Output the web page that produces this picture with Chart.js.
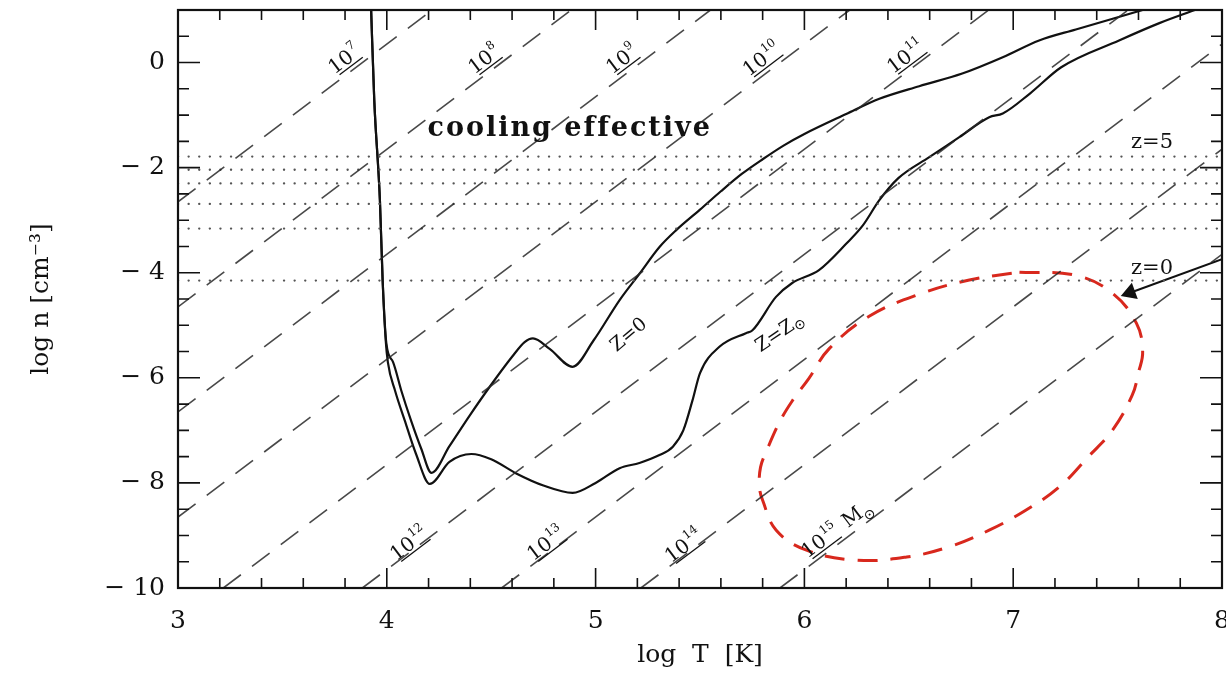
<!DOCTYPE html>
<html>
<head>
<meta charset="utf-8">
<title>Cooling diagram</title>
<script src="https://cdn.jsdelivr.net/npm/chart.js@4.4.1/dist/chart.umd.min.js"></script>
<style>
  body { margin: 0; background: #fff; }
  #wrap { width: 1226px; height: 678px; }
</style>
</head>
<body>
<div id="wrap"><canvas id="chart" width="1226" height="678"></canvas></div>
<script>
// axis tick labels
const xTicks = [3, 4, 5, 6, 7, 8];
const yTicks = [-10, -8, -6, -4, -2, 0];

// cooling curve, zero metallicity (log T, log n)
const zeroT = [3.925, 3.94, 3.967, 3.98, 3.998, 4.03, 4.07, 4.115, 4.165, 4.214, 4.3, 4.4, 4.493, 4.6, 4.66, 4.70, 4.78, 4.89, 4.99, 5.115, 5.21, 5.306, 5.386, 5.5, 5.6, 5.7, 5.8, 5.9, 6.0, 6.2, 6.359, 6.55, 6.756, 6.95, 7.124, 7.3, 7.62];
const zeroN = [1.0, -0.72, -2.62, -4.14, -5.35, -5.7, -6.25, -6.8, -7.35, -7.81, -7.3, -6.7, -6.17, -5.6, -5.32, -5.25, -5.45, -5.79, -5.29, -4.52, -4.02, -3.51, -3.19, -2.8, -2.45, -2.12, -1.84, -1.58, -1.36, -0.98, -0.69, -0.45, -0.21, 0.1, 0.42, 0.63, 1.0];

// cooling curve, solar metallicity
const solarT = [3.925, 3.94, 3.967, 3.98, 3.995, 4.005, 4.04, 4.085, 4.14, 4.206, 4.3, 4.405, 4.5, 4.62, 4.75, 4.89, 5.0, 5.115, 5.21, 5.306, 5.37, 5.42, 5.464, 5.5, 5.593, 5.72, 5.75, 5.864, 5.94, 6.07, 6.2, 6.28, 6.359, 6.45, 6.598, 6.742, 6.885, 6.95, 7.08, 7.23, 7.507, 7.7, 7.87];
const solarN = [1.0, -0.72, -2.62, -4.14, -5.3, -5.7, -6.25, -6.8, -7.45, -8.02, -7.6, -7.45, -7.55, -7.82, -8.05, -8.19, -8.0, -7.72, -7.62, -7.47, -7.31, -7.0, -6.43, -5.91, -5.41, -5.15, -5.1, -4.46, -4.2, -3.95, -3.45, -3.1, -2.62, -2.2, -1.8, -1.42, -1.04, -0.97, -0.59, -0.09, 0.42, 0.75, 1.0];

// halo mass lines 10^7 .. 10^15 Msun
const massExp = [7, 8, 9, 10, 11, 12, 13, 14, 15];
const massStartT = [3, 3, 3, 3, 3.217, 3.883, 4.55, 5.217, 5.883];
const massStartN = [-2.65, -4.65, -6.65, -8.65, -10, -10, -10, -10, -10];
const massEndT = [4.217, 4.883, 5.55, 6.217, 6.883, 7.55, 8, 8, 8];
const massEndN = [1, 1, 1, 1, 1, 1, 0.35, -1.65, -3.65];
const massLabelT = [3.79, 4.46, 5.12, 5.79, 6.48, 4.10, 4.756, 5.416, 6.07];
const massLabelN = [0.08, 0.08, 0.08, 0.08, 0.13, -9.14, -9.14, -9.18, -9.09];

// mean densities, z = 5 (top) to z = 0 (bottom)
const zLevelN = [-1.79, -2.04, -2.30, -2.69, -3.16, -4.15];

// red dashed region
const blobT = [7.03, 7.30, 7.475, 7.59, 7.62, 7.60, 7.57, 7.475, 7.36, 7.22, 7.06, 6.885, 6.69, 6.49, 6.25, 6.01, 5.865, 5.80, 5.785, 5.79, 5.82, 5.88, 5.94, 6.02, 6.12, 6.31, 6.55, 6.79, 7.03];
const blobN = [-3.99, -4.05, -4.39, -4.96, -5.5, -5.9, -6.33, -7.0, -7.5, -8.08, -8.52, -8.9, -9.22, -9.41, -9.47, -9.28, -8.9, -8.33, -8.08, -7.7, -7.38, -6.85, -6.45, -6.02, -5.44, -4.83, -4.41, -4.14, -3.99];

// arrow to the z=0 label
const arrowT = [8.0, 7.56];
const arrowN = [-3.74, -4.38];

const pts = (ts, ns) => ts.map((t, i) => ({x: t, y: ns[i]}));

const datasets = [];
massExp.forEach((e, i) => {
    datasets.push({
        data: [{x: massStartT[i], y: massStartN[i]}, {x: massEndT[i], y: massEndN[i]}],
        borderColor: 'rgba(40,40,40,0.85)', borderWidth: 1.6, borderDash: [22, 14]
    });
});
zLevelN.forEach(n => {
    datasets.push({
        data: [{x: 3, y: n}, {x: 8, y: n}],
        borderColor: '#555', borderWidth: 2.3, borderDash: [0.1, 10.5], borderCapStyle: 'round'
    });
});
datasets.push({ data: pts(zeroT, zeroN), borderColor: '#111', borderWidth: 2.2, cubicInterpolationMode: 'monotone' });
datasets.push({ data: pts(solarT, solarN), borderColor: '#111', borderWidth: 2.2, cubicInterpolationMode: 'monotone' });
datasets.push({ data: pts(blobT, blobN), borderColor: '#d8281d', borderWidth: 3, borderDash: [20, 13], tension: 0.4 });
datasets.push({
    data: pts(arrowT, arrowN), borderColor: '#111', borderWidth: 2,
    pointRadius: [0, 8], pointStyle: 'triangle', pointRotation: 250,
    pointBackgroundColor: '#111', pointBorderColor: '#111'
});
datasets.forEach(d => {
    d.showLine = true;
    if (d.pointRadius === undefined) d.pointRadius = 0;
    d.fill = false;
});

const serif = '"DejaVu Serif", serif';

function drawSun(ctx, x, y, r) {
    ctx.beginPath();
    ctx.arc(x, y, r, 0, Math.PI * 2);
    ctx.stroke();
    ctx.beginPath();
    ctx.arc(x, y, 1, 0, Math.PI * 2);
    ctx.fill();
}

const decor = {
    id: 'decor',
    afterDatasetsDraw(chart) {
        const {ctx, chartArea: a, scales: {x, y}} = chart;
        ctx.save();
        ctx.strokeStyle = '#111';
        ctx.fillStyle = '#111';

        // minor / major ticks on all four sides, pointing inwards
        ctx.lineWidth = 1.6;
        ctx.beginPath();
        for (let v = 3; v <= 8.0001; v += 0.2) {
            const px = x.getPixelForValue(v);
            const len = Math.abs(v - Math.round(v)) < 1e-6 ? 20 : 10;
            ctx.moveTo(px, a.bottom); ctx.lineTo(px, a.bottom - len);
            ctx.moveTo(px, a.top); ctx.lineTo(px, a.top + len);
        }
        for (let v = -10; v <= 1.0001; v += 0.5) {
            const py = y.getPixelForValue(v);
            const len = Math.abs(v / 2 - Math.round(v / 2)) < 1e-6 ? 22 : 11;
            ctx.moveTo(a.left, py); ctx.lineTo(a.left + len, py);
            ctx.moveTo(a.right, py); ctx.lineTo(a.right - len, py);
        }
        ctx.stroke();

        // frame
        ctx.lineWidth = 2.2;
        ctx.strokeRect(a.left, a.top, a.width, a.height);

        // mass labels along the dashed lines
        massExp.forEach((e, i) => {
            const x0 = x.getPixelForValue(massStartT[i]), y0 = y.getPixelForValue(massStartN[i]);
            const x1 = x.getPixelForValue(massEndT[i]), y1 = y.getPixelForValue(massEndN[i]);
            const ang = Math.atan2(y1 - y0, x1 - x0);
            ctx.save();
            ctx.translate(x.getPixelForValue(massLabelT[i]), y.getPixelForValue(massLabelN[i]));
            ctx.rotate(ang);
            ctx.textAlign = 'left';
            ctx.textBaseline = 'alphabetic';
            ctx.font = '20px ' + serif;
            const w10 = ctx.measureText('10').width;
            ctx.font = '12px ' + serif;
            const we = ctx.measureText(String(e)).width;
            const sx = -(w10 + we) / 2;
            ctx.font = '20px ' + serif;
            ctx.fillText('10', sx, 8);
            ctx.font = '12px ' + serif;
            ctx.fillText(String(e), sx + w10 + 1, -2);
            ctx.lineWidth = 1.3;
            ctx.beginPath();
            ctx.moveTo(sx + 4, 11); ctx.lineTo(sx + w10 + we, 11);
            ctx.stroke();
            if (e === 15) {
                ctx.font = '20px ' + serif;
                const mx = sx + w10 + we + 10;
                ctx.fillText('M', mx, 8);
                const mw = ctx.measureText('M').width;
                ctx.lineWidth = 1.1;
                drawSun(ctx, mx + mw + 5, 10, 4);
            }
            ctx.restore();
        });

        // free text
        const txt = (s, T, n, font, rot, spacing) => {
            ctx.save();
            ctx.translate(x.getPixelForValue(T), y.getPixelForValue(n));
            ctx.rotate(rot * Math.PI / 180);
            ctx.font = font;
            if (spacing) ctx.letterSpacing = spacing;
            ctx.textAlign = 'center';
            ctx.textBaseline = 'middle';
            ctx.fillText(s, 0, 0);
            ctx.restore();
        };
        txt('cooling effective', 4.876, -1.255, 'bold 27px ' + serif, 0, '2px');
        txt('z=5', 7.665, -1.52, '21px ' + serif, 0);
        txt('z=0', 7.665, -3.92, '21px ' + serif, 0);
        txt('Z=0', 5.16, -5.19, '19px ' + serif, -40);

        // Z = Z_sun
        ctx.save();
        ctx.translate(x.getPixelForValue(5.88), y.getPixelForValue(-5.16));
        ctx.rotate(-34 * Math.PI / 180);
        ctx.font = '19px ' + serif;
        ctx.textAlign = 'left';
        ctx.textBaseline = 'middle';
        const zw = ctx.measureText('Z=Z').width;
        ctx.fillText('Z=Z', -zw / 2 - 5, 0);
        ctx.lineWidth = 1.1;
        drawSun(ctx, zw / 2 + 1, 4, 4);
        ctx.restore();

        ctx.restore();
    }
};

new Chart(document.getElementById('chart'), {
    type: 'scatter',
    data: { datasets },
    plugins: [decor],
    options: {
        responsive: false,
        animation: false,
        events: [],
        layout: { autoPadding: false, padding: { top: 10, right: 4, left: 0, bottom: 0 } },
        plugins: { legend: { display: false }, tooltip: { enabled: false } },
        scales: {
            x: {
                type: 'linear', min: 3, max: 8,
                grid: { display: false, drawTicks: false },
                border: { display: false },
                ticks: {
                    stepSize: 1, padding: 18, color: '#111',
                    font: { family: 'DejaVu Serif', size: 25 },
                    callback: v => xTicks.includes(v) ? String(v) : ''
                },
                title: {
                    display: true, text: 'log  T  [K]', color: '#111',
                    font: { family: 'DejaVu Serif', size: 25 },
                    padding: { top: 0, bottom: 8 }
                },
                afterFit(scale) { scale.height = 90; scale.paddingLeft = 0; scale.paddingRight = 0; }
            },
            y: {
                type: 'linear', min: -10, max: 1,
                grid: { display: false, drawTicks: false },
                border: { display: false },
                ticks: {
                    stepSize: 2, includeBounds: false, padding: 13, color: '#111',
                    font: { family: 'DejaVu Serif', size: 25 },
                    callback: v => yTicks.includes(v) ? (v < 0 ? '\u2212 ' + (-v) : String(v)) : ''
                },
                title: {
                    display: true, text: 'log n [cm\u207B\u00B3]', color: '#111',
                    font: { family: 'DejaVu Serif', size: 25 },
                    padding: { top: 26, bottom: 0 }
                },
                afterFit(scale) { scale.width = 178; scale.paddingTop = 0; scale.paddingBottom = 0; }
            }
        }
    }
});
</script>
</body>
</html>
